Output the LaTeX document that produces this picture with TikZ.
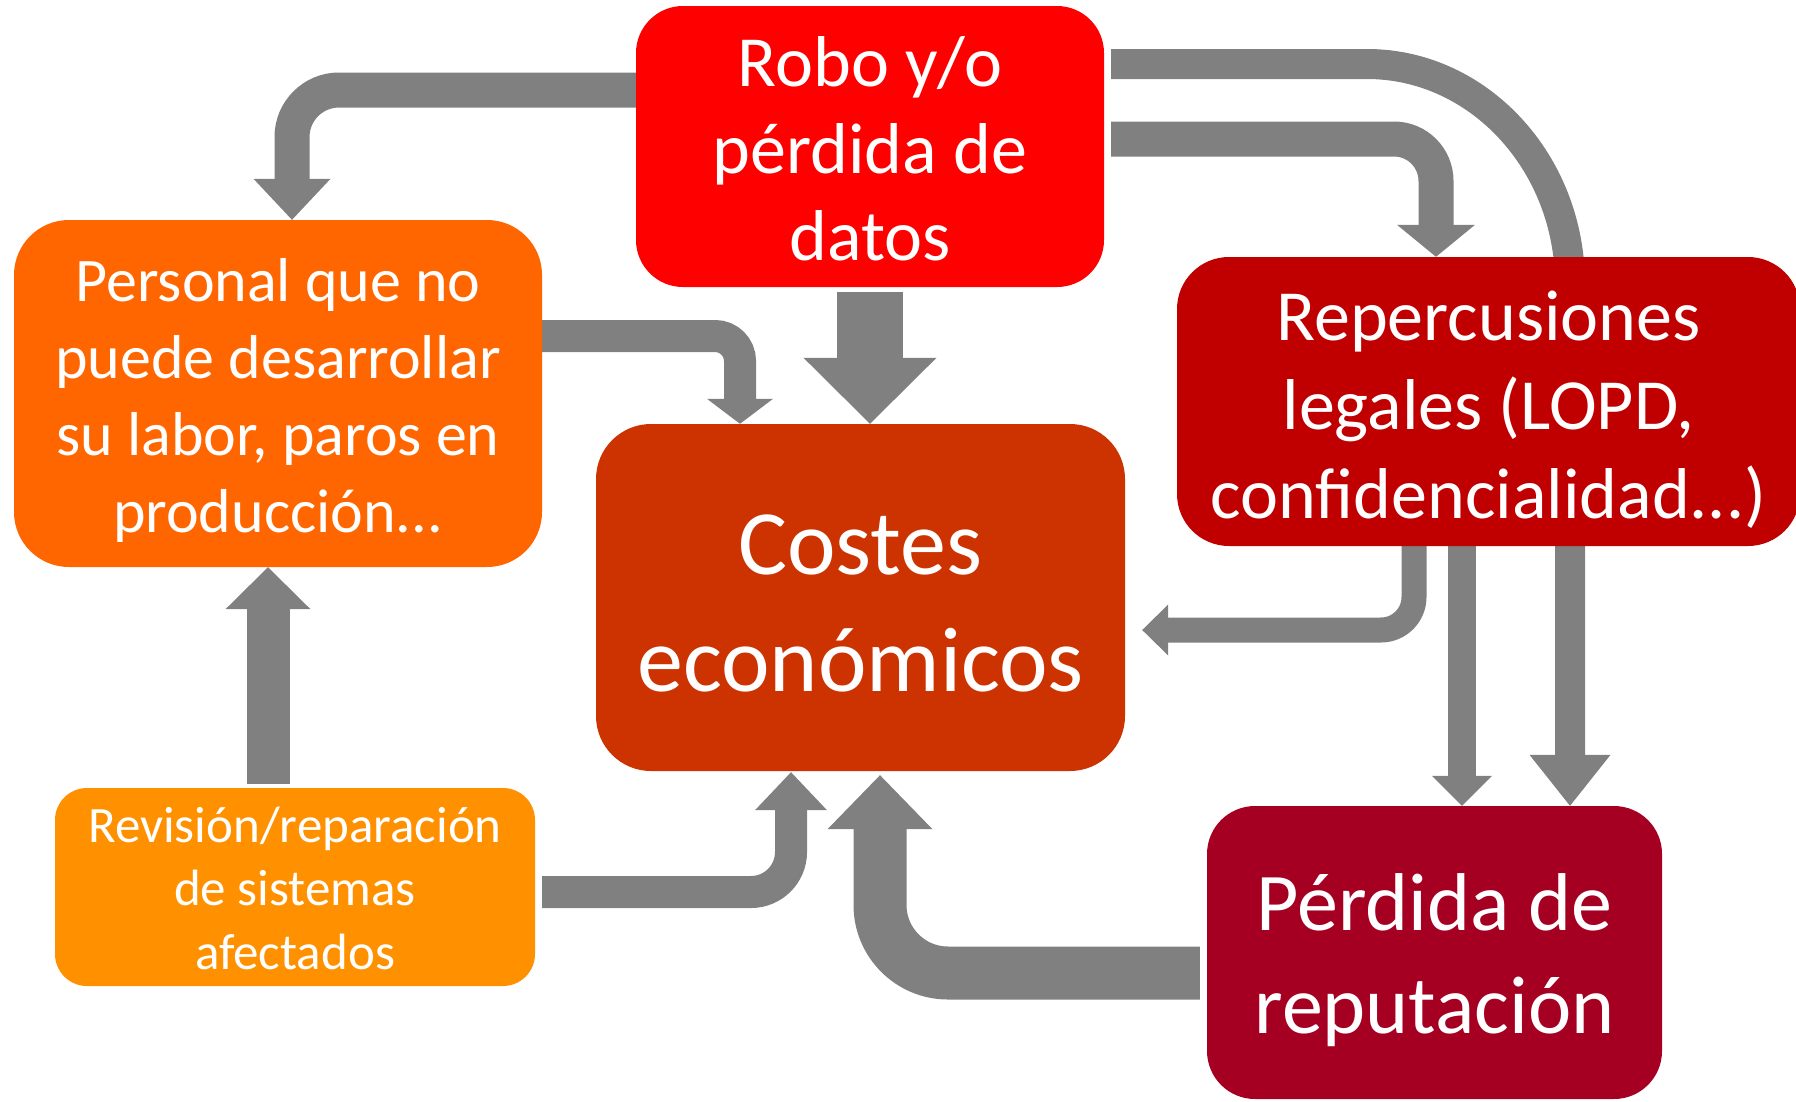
\documentclass[tikz,border=0pt]{standalone}
\usepackage{fontspec}
\setmainfont{Carlito}
\usetikzlibrary{arrows.meta,calc,backgrounds}
\definecolor{gcol}{HTML}{808080}
\definecolor{cRobo}{HTML}{FF0000}
\definecolor{cPers}{HTML}{FF6600}
\definecolor{cCost}{HTML}{CC3300}
\definecolor{cRep}{HTML}{C00000}
\definecolor{cRev}{HTML}{FF9100}
\definecolor{cPer}{HTML}{A50021}
\tikzset{
  box/.style={rectangle, draw=none, inner sep=0pt},
  txt/.style={text=white, align=center, inner sep=0pt},
  arr/.style n args={3}{draw=gcol, line width=#1pt,
    -{Triangle[width=#2pt 0 0, length=#3pt 0 0, line width=0pt]}},
}
\begin{document}
\begin{tikzpicture}[x=1pt,y=-1pt]
\useasboundingbox (0,0) rectangle (1796,1101);
% boxes
\node[box, fill=cRobo, minimum width=468pt, minimum height=281pt, rounded corners=47pt,
  label={[txt, yshift=-2pt, font=\fontsize{72}{87}\selectfont]center:{Robo y/o\\pérdida de\\datos}}]
  (robo) at (870,146.5) {};
\node[box, fill=cPers, minimum width=528pt, minimum height=347pt, rounded corners=55pt,
  label={[txt, yshift=-7pt, font=\fontsize{62}{77}\selectfont]center:{Personal que no\\puede desarrollar\\su labor, paros en\\producción...}}]
  (personal) at (278,393.5) {};
\node[box, fill=cCost, minimum width=529pt, minimum height=347pt, rounded corners=55pt,
  label={[txt, yshift=-6pt, font=\fontsize{92}{117}\selectfont]center:{Costes\\económicos}}]
  (costes) at (860.5,597.5) {};
\node[box, fill=cRep, minimum width=623pt, minimum height=289pt, rounded corners=52pt,
  label={[txt, yshift=-8pt, font=\fontsize{72}{89}\selectfont]center:{Repercusiones\\legales (LOPD,\\confidencialidad...)}}]
  (reper) at (1488.5,401.5) {};
\node[box, fill=cRev, minimum width=480pt, minimum height=198pt, rounded corners=32pt,
  label={[txt, yshift=-1pt, font=\fontsize{51}{63.5}\selectfont]center:{Revisión/reparación\\de sistemas\\afectados}}]
  (revision) at (295,887) {};
\node[box, fill=cPer, minimum width=455pt, minimum height=293pt, rounded corners=48pt,
  label={[txt, yshift=-8pt, font=\fontsize{82}{103}\selectfont]center:{Pérdida de\\reputación}}]
  (perdida) at (1434.5,952.5) {};
% connectors
\begin{scope}[on background layer]
\fill[white] (0,0) rectangle (1796,1101);
\draw[arr={35}{77}{41}, rounded corners=47pt]
  (robo.west |- 0,90) -| (personal.north -| 292,0);
\draw[arr={66}{133}{66}]
  ($(robo.south)+(0,5)$) -- (robo.south |- costes.north);
\draw[arr={35}{78}{32}, rounded corners=42pt]
  ($(robo.east |- 0,139)+(7,0)$) -| (reper.north -| 1436,0);
\draw[arr={30}{81}{51}]
  ($(robo.east |- 0,64)+(7,0)$) -- (1367,64) .. controls (1479,64) and (1570,163) .. (1570,284)
  -- (perdida.north -| 1570,0);
\draw[arr={32}{66}{25}, rounded corners=25pt]
  (personal.east |- 0,336) -| (costes.north -| 740,0);
\draw[arr={43}{85}{42}]
  ($(revision.north -| 268,0)+(0,-4)$) -- (personal.south -| 268,0);
\draw[arr={32}{72}{38}, rounded corners=40pt]
  ($(revision.east |- 0,892)+(7,0)$) -| ($(costes.south -| 791,0)+(0,1)$);
\draw[arr={25}{51}{26}, rounded corners=33pt]
  (reper.south -| 1414,0) |- ($(costes.east |- 0,630)+(17,0)$);
\draw[arr={28}{60}{30}]
  (reper.south -| 1462,0) -- (perdida.north -| 1462,0);
\draw[arr={53}{105}{54}, rounded corners=68pt]
  ($(perdida.west |- 0,973)+(-7,0)$) -| ($(costes.south -| 880,0)+(0,4)$);
\end{scope}
\end{tikzpicture}
\end{document}
